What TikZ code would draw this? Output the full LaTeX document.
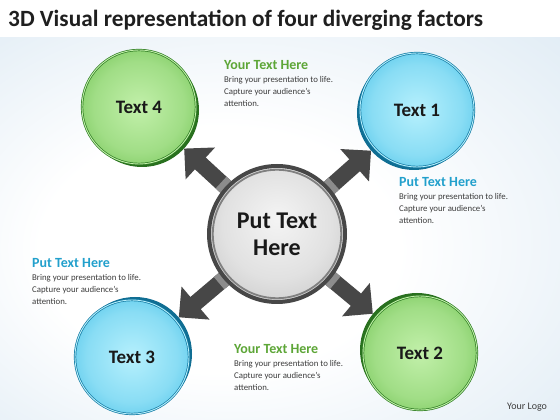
\documentclass[tikz,border=0pt]{standalone}
\usepackage{fontspec}
\setmainfont{Carlito}
\usepackage{tikz}
\usetikzlibrary{arrows.meta, calc, shadows}
\usetikzlibrary{positioning}

\definecolor{gcenter}{HTML}{C2F0AA}
\definecolor{gedge}{HTML}{52B232}
\definecolor{grim}{HTML}{2E7C22}
\definecolor{bcenter}{HTML}{B6F0FD}
\definecolor{bedge}{HTML}{20B0E0}
\definecolor{brim}{HTML}{127AA3}
\definecolor{ccenter}{HTML}{F4F4F4}
\definecolor{cedge}{HTML}{A9A9A9}
\definecolor{panelblue}{HTML}{D2E3F0}
\definecolor{headgreen}{HTML}{5DA637}
\definecolor{headblue}{HTML}{22A0CC}
\definecolor{bodygray}{HTML}{3C3C3C}

\pgfdeclareradialshading{gshade}{\pgfpoint{0bp}{0bp}}{color(0bp)=(gcenter); color(20bp)=(gcenter!70!gedge); color(44bp)=(gedge); color(50bp)=(gedge!85!black)}
\pgfdeclareradialshading{bshade}{\pgfpoint{0bp}{0bp}}{color(0bp)=(bcenter); color(20bp)=(bcenter!70!bedge); color(44bp)=(bedge); color(50bp)=(bedge!85!black)}
\pgfdeclareradialshading{cshade}{\pgfpoint{0bp}{6bp}}{color(0bp)=(ccenter); color(20bp)=(ccenter!75!cedge); color(50bp)=(cedge)}
\pgfdeclareradialshading{pshade}{\pgfpoint{-8bp}{-4bp}}{color(0bp)=(white); color(16bp)=(white); color(50bp)=(panelblue)}

\pgfdeclarelayer{panel}
\pgfdeclarelayer{back}
\pgfsetlayers{panel,back,main}

\tikzset{
	ball/.style={circle, minimum size=114pt, inner sep=0pt, shade, line width=0.7pt,
		double distance=0.9pt, font=\fontsize{19}{22}\selectfont\bfseries, text=black!90},
	greenball/.style 2 args={ball, shading=gshade, draw=grim, double=gcenter,
		copy shadow={shadow xshift=#1, shadow yshift=#2, fill=grim!90!black, draw=none}},
	blueball/.style 2 args={ball, shading=bshade, draw=brim, double=bcenter,
		copy shadow={shadow xshift=#1, shadow yshift=#2, fill=brim!90!black, draw=none}},
	hub/.style={circle, minimum size=136pt, inner sep=0pt, shade, shading=cshade,
		draw=black!72, line width=4pt, align=center,
		font=\fontsize{24}{27}\selectfont\bfseries, text=black!90},
	spoke/.style={draw=black!72, line width=16pt, shorten <=-3pt, shorten >=4pt,
		-{Triangle[width=42pt, length=22pt]}},
	collar/.style={draw=black!45, line width=16pt},
	head/.style={anchor=base west, inner sep=0pt, font=\fontsize{14}{16}\selectfont\bfseries},
	body/.style={inner sep=0pt, align=left, text=bodygray, font=\fontsize{8.8}{12}\selectfont}
}

\begin{document}
\begin{tikzpicture}[x=1pt, y=1pt]
	\useasboundingbox (0,0) rectangle (560,420);
	\begin{pgfonlayer}{panel}
		\fill[white] (0,0) rectangle (560,420);
		\shade[shading=pshade] (0,0) rectangle (560,382);
	\end{pgfonlayer}

	\node[anchor=base west, inner sep=0pt, font=\fontsize{23.3}{27}\selectfont\bfseries, text=black!88]
		(title) at (8,393) {3D Visual representation of four diverging factors};

	% centre and the four discs
	\node[hub] (c) at (277,186) {Put Text\\Here};
	\node[blueball={-3pt}{-3pt}] (t1) at (417,310) {Text 1};
	\node[greenball={-3pt}{3pt}] (t2) at (420,67) {Text 2};
	\node[blueball={3pt}{3pt}] (t3) at (132,63) {Text 3};
	\node[greenball={3pt}{-3pt}] (t4) at (139,313) {Text 4};

	\begin{pgfonlayer}{back}
		\draw[spoke] (c) -- (t1);
		\draw[spoke] (c) -- (t2);
		\draw[spoke] (c) -- (t3);
		\draw[spoke] (c) -- (t4);
		\draw[collar] (c.center) -- ($(c.center)!76pt!(t1.center)$);
		\draw[collar] (c.center) -- ($(c.center)!76pt!(t2.center)$);
		\draw[collar] (c.center) -- ($(c.center)!76pt!(t3.center)$);
		\draw[collar] (c.center) -- ($(c.center)!76pt!(t4.center)$);
	\end{pgfonlayer}
	\draw[black!50, line width=1.8pt] (c.center) circle (64.2);

	% text blocks
	\node[head, text=headgreen] (h4) at (224,350) {Your Text Here};
	\node[body, below right=6pt and 0pt of h4.base west] (b4)
		{Bring your presentation to life.\\Capture your audience's\\attention.};
	\node[head, text=headblue] (h1) at (399,233) {Put Text Here};
	\node[body, below right=6pt and 0pt of h1.base west] (b1)
		{Bring your presentation to life.\\Capture your audience's\\attention.};
	\node[head, text=headblue] (h3) at (32,152) {Put Text Here};
	\node[body, below right=6pt and 0pt of h3.base west] (b3)
		{Bring your presentation to life.\\Capture your audience's\\attention.};
	\node[head, text=headgreen] (h2) at (234,66) {Your Text Here};
	\node[body, below right=6pt and 0pt of h2.base west] (b2)
		{Bring your presentation to life.\\Capture your audience's\\attention.};

	\node[anchor=base west, inner sep=0pt, font=\fontsize{10}{12}\selectfont, text=bodygray]
		(logo) at (507,10) {Your Logo};
\end{tikzpicture}
\end{document}
